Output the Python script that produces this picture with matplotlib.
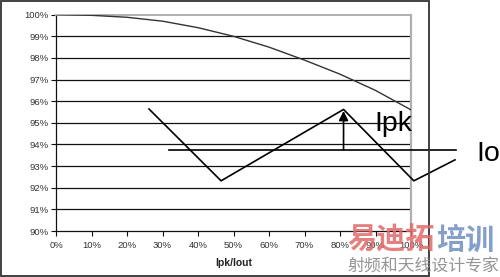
import matplotlib
matplotlib.use("Agg")
import matplotlib.pyplot as plt
from matplotlib.patches import Rectangle

plt.rcParams['font.family'] = ['Liberation Sans', 'DejaVu Sans']

# Data
load_pct = [0, 10, 20, 30, 40, 50, 60, 70, 80, 90, 100]
efficiency = [100.0, 99.97, 99.88, 99.7, 99.4, 99.0, 98.5, 97.9, 97.25, 96.5, 95.6]
x_ticklabels = ['0%', '10%', '20%', '30%', '40%', '50%', '60%', '70%', '80%', '90%', '100%']
y_ticks = [90, 91, 92, 93, 94, 95, 96, 97, 98, 99, 100]
y_ticklabels = ['90%', '91%', '92%', '93%', '94%', '95%', '96%', '97%', '98%', '99%', '100%']

# Ripple sketch (inductor current) in chart units
ripple_x = [26.2, 46.5, 81.0, 100.8, 112.4]
ripple_y = [95.64, 92.32, 95.62, 92.32, 93.29]
io_level = 93.75
io_x = [31.8, 112.7]
peak_x = 81.0
peak_y = 95.55

fig = plt.figure(figsize=(5.0, 2.77), dpi=100)
ax = fig.add_axes([0.112, 0.166, 0.71, 0.781])

ax.set_xlim(0, 100)
ax.set_ylim(90, 100)
ax.set_xticks(load_pct)
ax.set_xticklabels(x_ticklabels)
ax.set_yticks(y_ticks)
ax.set_yticklabels(y_ticklabels)

for yv in y_ticks[1:-1]:
    ax.axhline(yv, color='#111111', lw=0.9, zorder=1)

ax.plot(load_pct, efficiency, color='#333333', lw=1.0, zorder=3)

ax.spines['top'].set_color('#b0b0b0')
ax.spines['top'].set_linewidth(1.4)
ax.spines['right'].set_color('#b0b0b0')
ax.spines['right'].set_linewidth(1.6)
ax.spines['left'].set_color('#111111')
ax.spines['left'].set_linewidth(0.9)
ax.spines['bottom'].set_color('#111111')
ax.spines['bottom'].set_linewidth(0.9)

ax.tick_params(axis='both', direction='out', length=3.5, width=0.8, color='#111111',
               labelsize=6.8, labelcolor='#333333')
ax.tick_params(axis='x', pad=3.5)
ax.tick_params(axis='y', pad=2)

ax.set_xlabel('Ipk/Iout', fontsize=7.5, fontweight='bold', color='#222222', labelpad=6)

# Ripple overlay
ax.plot(ripple_x, ripple_y, color='black', lw=1.2, clip_on=False, zorder=5)
ax.plot(io_x, [io_level, io_level], color='black', lw=1.2, clip_on=False, zorder=5)
ax.annotate('', xy=(peak_x, peak_y), xytext=(peak_x, io_level),
            arrowprops=dict(arrowstyle='-|>', color='black', lw=1.2,
                            mutation_scale=14, shrinkA=0, shrinkB=0),
            annotation_clip=False, zorder=6)
ax.text(89.6, 94.62, 'Ipk', fontsize=20.5, va='baseline', ha='left', color='black', clip_on=False)
ax.text(118.5, 93.25, 'Io', fontsize=20.5, va='baseline', ha='left', color='black', clip_on=False)

# Figure border
fig.patches.append(Rectangle((0.001, 0.003), 0.856, 0.995, transform=fig.transFigure,
                             fill=False, edgecolor='#333333', lw=1.3, zorder=0))

# Watermark
cjk = ['Noto Sans CJK SC', 'DejaVu Sans']
fig.text(0.694, 0.135, '易迪拓', fontsize=21, fontweight='bold', color='#e06a6a', alpha=0.85,
         family=cjk, ha='left', va='center')
fig.text(0.872, 0.135, '培训', fontsize=21, fontweight='bold', color='#6f8fbf', alpha=0.85,
         family=cjk, ha='left', va='center')
fig.text(0.694, 0.038, '射频和天线设计专家', fontsize=12.2, color='#8a8a8a', alpha=0.9,
         family=cjk, ha='left', va='center')

fig.savefig('out.png', dpi=100)
